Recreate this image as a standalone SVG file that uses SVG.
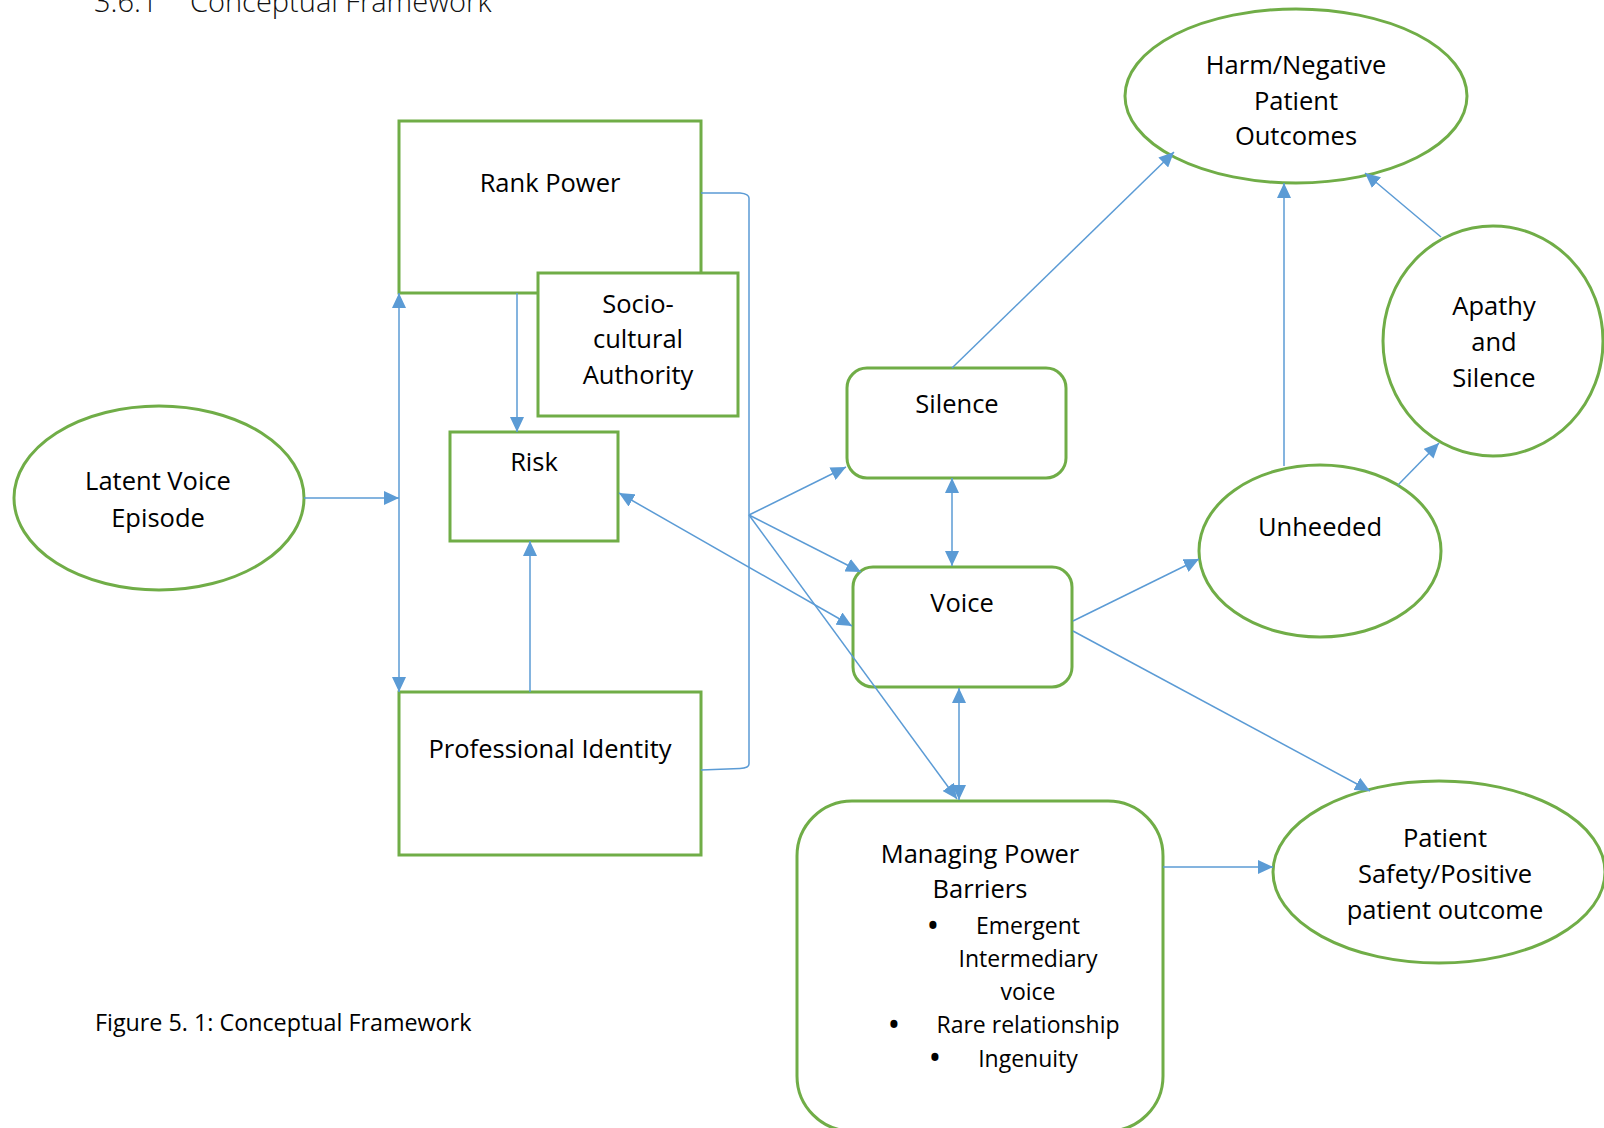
<svg xmlns="http://www.w3.org/2000/svg" width="1604" height="1128" viewBox="0 0 1604 1128">
<style>
.box{fill:#fff;stroke:#70AD47;stroke-width:3}
.t{font-family:"Open Sans","Liberation Sans",sans-serif;font-size:25.5px;fill:#000;text-anchor:middle}
.s{font-size:23px}
.b{font-size:34px}
.c{fill:none;stroke:#5B9BD5;stroke-width:1.5}
.e{marker-end:url(#ah)}
.d{marker-start:url(#ah);marker-end:url(#ah)}
</style>
<defs>
<marker id="ah" viewBox="0 0 15 14" refX="15" refY="7" markerWidth="15" markerHeight="14" markerUnits="userSpaceOnUse" orient="auto-start-reverse">
<path d="M0,0 L15,7 L0,14 z" fill="#5B9BD5"/>
</marker>
</defs>
<rect width="1604" height="1128" fill="#fff"/>
<g id="title" font-family="'Open Sans','Liberation Sans',sans-serif" font-size="29" font-weight="300" fill="#111">
<text x="94" y="12">3.6.1</text>
<text x="190" y="12">Conceptual Framework</text>
</g>
<g id="rank-power"><rect class="box" x="399" y="121" width="302" height="172"/><text class="t" x="550" y="192">Rank Power</text></g>
<g id="socio-cultural"><rect class="box" x="538" y="273" width="200" height="143"/><text class="t" x="638" y="313">Socio-</text><text class="t" x="638" y="348">cultural</text><text class="t" x="638" y="384">Authority</text></g>
<g id="risk"><rect class="box" x="450" y="432" width="168" height="109"/><text class="t" x="534" y="471">Risk</text></g>
<g id="professional-identity"><rect class="box" x="399" y="692" width="302" height="163"/><text class="t" x="550" y="758">Professional Identity</text></g>
<g id="latent-voice"><ellipse class="box" cx="159" cy="498" rx="145" ry="92"/><text class="t" x="158" y="490">Latent Voice</text><text class="t" x="158" y="527">Episode</text></g>
<g id="silence"><rect class="box" x="847" y="368" width="219" height="110" rx="20"/><text class="t" x="957" y="413">Silence</text></g>
<g id="voice"><rect class="box" x="853" y="567" width="219" height="120" rx="20"/><text class="t" x="962" y="612">Voice</text></g>
<g id="managing-power"><rect class="box" x="797" y="801" width="366" height="330" rx="55"/>
<text class="t" x="980" y="863">Managing Power</text><text class="t" x="980" y="898">Barriers</text>
<text class="t b" x="933" y="938">•</text><text class="t s" x="1028" y="934">Emergent</text>
<text class="t s" x="1028" y="967">Intermediary</text>
<text class="t s" x="1028" y="1000">voice</text>
<text class="t b" x="894" y="1037">•</text><text class="t s" x="1028" y="1033">Rare relationship</text>
<text class="t b" x="935" y="1070">•</text><text class="t s" x="1028" y="1067">Ingenuity</text>
</g>
<g id="harm"><ellipse class="box" cx="1296" cy="96" rx="171" ry="87"/><text class="t" x="1296" y="74">Harm/Negative</text><text class="t" x="1296" y="110">Patient</text><text class="t" x="1296" y="145">Outcomes</text></g>
<g id="apathy"><ellipse class="box" cx="1493" cy="341" rx="110" ry="115"/><text class="t" x="1494" y="315">Apathy</text><text class="t" x="1494" y="351">and</text><text class="t" x="1494" y="387">Silence</text></g>
<g id="unheeded"><ellipse class="box" cx="1320" cy="551" rx="121" ry="86"/><text class="t" x="1320" y="536">Unheeded</text></g>
<g id="patient-safety"><ellipse class="box" cx="1439" cy="872" rx="166" ry="91"/><text class="t" x="1445" y="847">Patient</text><text class="t" x="1445" y="883">Safety/Positive</text><text class="t" x="1445" y="919">patient outcome</text></g>
<g id="connectors">
<path class="c e" d="M304,498 L399,498"/>
<path class="c d" d="M399,293 L399,692"/>
<path class="c e" d="M517,293 L517,432"/>
<path class="c e" d="M530,692 L530,541"/>
<path class="c" d="M701,193 L740,193 Q749,194 749,198 L749,764 Q749,768 740,768.5 L701,770"/>
<path class="c e" d="M749,515 L846,467"/>
<path class="c e" d="M749,515 L861,572"/>
<path class="c e" d="M749,515 L957,799"/>
<path class="c d" d="M619,493 L852,626"/>
<path class="c d" d="M952,478 L952,566"/>
<path class="c d" d="M959,688 L959,800"/>
<path class="c e" d="M952,368 L1174,152"/>
<path class="c e" d="M1073,621 L1199,559"/>
<path class="c e" d="M1073,631 L1370,791"/>
<path class="c e" d="M1163,867 L1273,867"/>
<path class="c e" d="M1284,466 L1284,183"/>
<path class="c e" d="M1398,485 L1439,443"/>
<path class="c e" d="M1441,237 L1365,173"/>
</g>
<text x="95" y="1031" font-family="'Open Sans','Liberation Sans',sans-serif" font-size="23.3" fill="#000">Figure 5. 1: Conceptual Framework</text>
</svg>
